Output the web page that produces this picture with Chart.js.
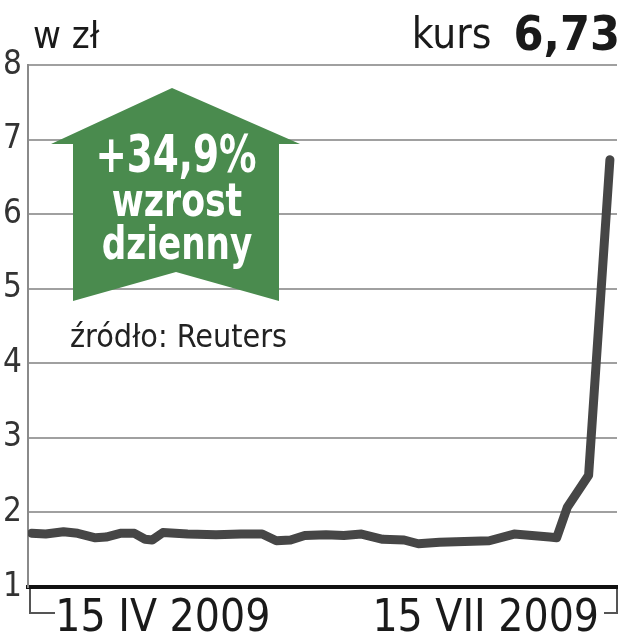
<!DOCTYPE html>
<html>
<head>
<meta charset="utf-8">
<script src="https://cdn.jsdelivr.net/npm/chart.js@4"></script>
<style>
  html, body { margin: 0; padding: 0; background: #fff; }
  #wrap { width: 626px; height: 640px; }
</style>
</head>
<body>
<div id="wrap"><canvas id="chart1"></canvas></div>
<script>
// days counted from 15 IV 2009
var days   = [-37, -33, -28, -24, -19, -16, -12, -8, -5, -3, 0, 7, 15, 22, 28, 32, 36, 40, 46, 51, 56, 62, 68, 72, 78, 85, 92, 99, 104, 109, 111, 114, 120, 126]
var kurs   = [1.72, 1.71, 1.74, 1.72, 1.66, 1.67, 1.72, 1.72, 1.64, 1.63, 1.73, 1.71, 1.70, 1.71, 1.71, 1.62, 1.63, 1.69, 1.70, 1.69, 1.71, 1.64, 1.63, 1.58, 1.60, 1.61, 1.62, 1.71, 1.69, 1.67, 1.66, 2.07, 2.50, 6.73]
var xTicks = [0, 91]
var xTickLabels = ['15 IV 2009', '15 VII 2009']
var yTicks = [1, 2, 3, 4, 5, 6, 7, 8]

var FONT = "'Liberation Sans Narrow', 'DejaVu Sans Condensed', sans-serif"

var points = days.map(function(d, i){ return {x: d, y: kurs[i]} })

// tekst zwezony w poziomie
function narrowText(ctx, txt, x, y, sx){
  ctx.save()
  ctx.translate(x, y)
  ctx.scale(sx, 1)
  ctx.fillText(txt, 0, 0)
  ctx.restore()
}

var decor = {
  id: 'decor',
  afterDraw: function(chart){
    var ctx = chart.ctx
    var a = chart.chartArea
    ctx.save()

    // naglowek
    ctx.fillStyle = '#1a1a1a'
    ctx.textBaseline = 'alphabetic'
    ctx.textAlign = 'left'
    ctx.font = '38px ' + FONT
    ctx.fillText('w zł', 33, 48)
    ctx.textAlign = 'right'
    ctx.font = 'bold 48px ' + FONT
    ctx.fillText('6,73', 620, 50)
    var w = ctx.measureText('6,73').width
    ctx.font = '42px ' + FONT
    ctx.fillText('kurs', 620 - w - 22, 48)

    // klamry pod osia
    ctx.strokeStyle = '#555'
    ctx.lineWidth = 2
    ctx.beginPath()
    ctx.moveTo(a.left + 2, a.bottom + 2)
    ctx.lineTo(a.left + 2, a.bottom + 26)
    ctx.lineTo(a.left + 27, a.bottom + 26)
    ctx.moveTo(a.right, a.bottom + 2)
    ctx.lineTo(a.right, a.bottom + 26)
    ctx.lineTo(a.right - 13, a.bottom + 26)
    ctx.stroke()

    // zielona strzalka
    ctx.fillStyle = '#4a8b4e'
    ctx.beginPath()
    ctx.moveTo(172, 88)
    ctx.lineTo(300, 144)
    ctx.lineTo(279, 144)
    ctx.lineTo(279, 301)
    ctx.lineTo(176, 272)
    ctx.lineTo(73, 301)
    ctx.lineTo(73, 144)
    ctx.lineTo(51, 144)
    ctx.closePath()
    ctx.fill()

    ctx.fillStyle = '#fff'
    ctx.textAlign = 'center'
    ctx.font = 'bold 52px ' + FONT
    narrowText(ctx, '+34,9%', 176, 172, 0.8)
    ctx.font = 'bold 47px ' + FONT
    narrowText(ctx, 'wzrost', 177, 216, 0.82)
    narrowText(ctx, 'dzienny', 177, 259, 0.81)

    ctx.fillStyle = '#222'
    ctx.textAlign = 'left'
    ctx.font = '32px ' + FONT
    narrowText(ctx, 'źródło: Reuters', 70, 347, 1.0)
    ctx.restore()
  }
}

new Chart(document.getElementById('chart1').getContext('2d'), {
  type: 'line',
  data: {
    datasets: [{
      label: 'kurs',
      data: points,
      borderColor: '#464646',
      borderWidth: 9,
      borderJoinStyle: 'round',
      borderCapStyle: 'round',
      pointRadius: 0,
      tension: 0,
      fill: false
    }]
  },
  options: {
    responsive: true,
    maintainAspectRatio: false,
    animation: false,
    layout: { padding: { top: 65, right: 9, left: 0, bottom: 0 } },
    plugins: { legend: { display: false }, tooltip: { enabled: false } },
    scales: {
      x: {
        type: 'linear',
        min: -38,
        max: 128,
        grid: { display: false, drawTicks: false },
        border: { display: true, color: '#111', width: 4 },
        afterBuildTicks: function(scale){
          scale.ticks = xTicks.map(function(v){ return {value: v} })
        },
        afterFit: function(scale){ scale.height = 53 },
        ticks: {
          autoSkip: false,
          maxRotation: 0,
          padding: 6,
          color: '#1a1a1a',
          font: { family: FONT, size: 44 },
          callback: function(v){ return xTickLabels[xTicks.indexOf(v)] }
        }
      },
      y: {
        min: 1,
        max: 8,
        afterBuildTicks: function(scale){
          scale.ticks = yTicks.map(function(v){ return {value: v} })
        },
        afterFit: function(scale){ scale.width = 28 },
        grid: { color: '#a0a0a0', lineWidth: 2, drawTicks: false },
        border: { display: true, color: '#8a8a8a', width: 2 },
        ticks: {
          padding: 6,
          color: '#333',
          font: { family: FONT, size: 33 }
        }
      }
    }
  },
  plugins: [decor]
})
</script>
</body>
</html>
